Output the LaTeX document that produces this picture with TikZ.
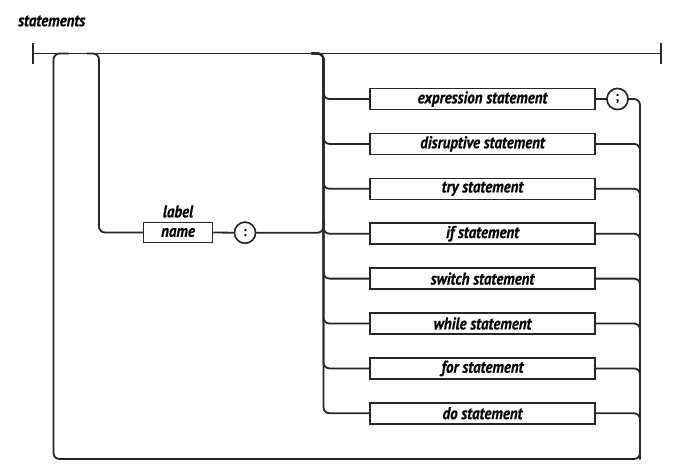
\documentclass[tikz,border=0pt]{standalone}
\usepackage{fontspec}
\newfontfamily\railfont{PT Sans Bold Italic}[FakeStretch=0.88, FakeBold=0.5]
\newfontfamily\tokenfont{PT Sans Bold}
\begin{document}
\begin{tikzpicture}[x=1pt, y=-1pt,
  rail/.style={draw=black!85, line width=1.8pt},
  railturn/.style={rail, rounded corners=6pt},
  box/.style={draw=black!85, line width=1.5pt, fill=white, inner sep=0pt,
    minimum width=225pt, minimum height=21pt,
    font=\railfont\fontsize{17}{19}\selectfont},
  token/.style={circle, draw=black!85, line width=1.5pt, fill=white, inner sep=0pt,
    minimum size=21pt, font=\tokenfont\fontsize{14}{16}\selectfont},
  caption/.style={font=\railfont\fontsize{17}{19}\selectfont, inner sep=0pt}]
\useasboundingbox (0,0) rectangle (677,475);

% title
\node[caption, anchor=west] (title) at (18,21) {statements};

% entry and exit of the main line
\coordinate (start) at (33,53.5);
\coordinate (end) at (661,53.5);
\coordinate (lblX) at (99,53.5);
\coordinate (altX) at (323.5,53.5);
\coordinate (loopL) at (53.5,459);
\coordinate (loopR) at (640,459);

% statement alternatives
\foreach \n/\t [count=\i from 0] in {
    s1/expression statement, s2/disruptive statement, s3/try statement,
    s4/if statement, s5/switch statement, s6/while statement,
    s7/for statement, s8/do statement}
  \node[box] (\n) at (482.5, 99+44.9*\i) {\t};

\node[token] (semi) at (617.5,99) {;};

% optional label
\node[box, minimum width=69pt, minimum height=20pt] (name) at (178,232.5) {name};
\node[caption] (lbl) at (178,211.5) {label};
\node[token] (colon) at (245,232.7) {:};

% main line with end ticks
\draw[rail] (start) -- (end);
\draw[rail] ([yshift=-10.5pt]start) -- ([yshift=11pt]start);
\draw[rail] ([yshift=-10.5pt]end) -- ([yshift=11pt]end);

% loop back to the start
\draw[railturn] (semi.east) -| (loopR) -- (loopL) -- (loopL |- start) -- ([xshift=15pt]loopL |- start);

% label branch
\draw[railturn] ([xshift=-12pt]lblX) -- (lblX) |- (name.west);
\draw[rail] (name.east) -- (colon.west);
\draw[railturn] (colon.west) -- (colon.east -| altX) -- ([yshift=12pt]colon.east -| altX);

% fan out to the alternatives
\foreach \n in {s1,s2,s3,s4,s5,s6,s7,s8}
  \draw[railturn] ([xshift=-12pt]altX) -- (altX) |- (\n.west);

% merge the alternatives on the right
\draw[rail] (s1.east) -- (semi.west);
\foreach \n in {s2,s3,s4,s5,s6,s7,s8}
  \draw[railturn] (\n.east) -| (loopR);

% redraw nodes above the lines
\foreach \n/\t [count=\i from 0] in {
    s1/expression statement, s2/disruptive statement, s3/try statement,
    s4/if statement, s5/switch statement, s6/while statement,
    s7/for statement, s8/do statement}
  \node[box] at (\n) {\t};
\node[token] at (semi) {;};
\node[token] at (colon) {:};
\node[box, minimum width=69pt, minimum height=20pt] at (name) {name};
\end{tikzpicture}
\end{document}
